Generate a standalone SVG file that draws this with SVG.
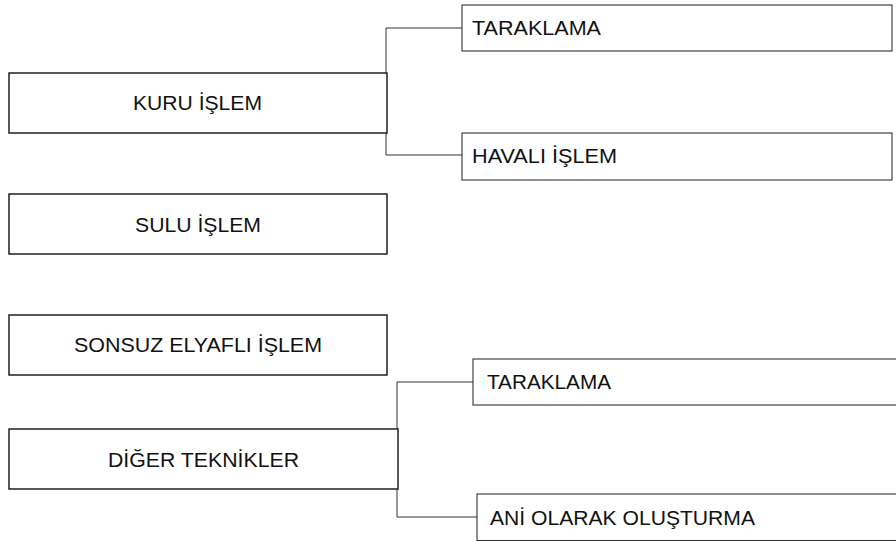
<svg xmlns="http://www.w3.org/2000/svg" width="896" height="541" viewBox="0 0 896 541">
<style>
.main{fill:#fff;stroke:#111;stroke-width:1.4}
.sub{fill:#fff;stroke:#333;stroke-width:1.1}
.conn{fill:none;stroke:#333;stroke-width:1}
text{font-family:"Liberation Sans",Arial,sans-serif;font-size:20px;fill:#111}
</style>
<rect width="896" height="541" fill="#fff"/>
<g id="connectors">
<path class="conn" d="M386,28 H462 M386,28 V155 H462"/>
<path class="conn" d="M397,382 H473 M397,382 V517 H477"/>
</g>
<g id="kuru"><rect class="main" x="9" y="73" width="378" height="60"/><text x="133" y="110" textLength="129" lengthAdjust="spacingAndGlyphs">KURU İŞLEM</text></g>
<g id="sulu"><rect class="main" x="9" y="194" width="378" height="60"/><text x="135" y="231.5" textLength="126" lengthAdjust="spacingAndGlyphs">SULU İŞLEM</text></g>
<g id="sonsuz"><rect class="main" x="9" y="315" width="378" height="60"/><text x="74" y="351.5" textLength="248" lengthAdjust="spacingAndGlyphs">SONSUZ ELYAFLI İŞLEM</text></g>
<g id="diger"><rect class="main" x="9" y="429" width="389" height="60"/><text x="108" y="466.5" textLength="191" lengthAdjust="spacingAndGlyphs">DİĞER TEKNİKLER</text></g>
<g id="taraklama1"><rect class="sub" x="462" y="5" width="430" height="46"/><text x="472" y="35" textLength="129" lengthAdjust="spacingAndGlyphs">TARAKLAMA</text></g>
<g id="havali"><rect class="sub" x="462" y="133" width="430" height="47"/><text x="472" y="162.5" textLength="145" lengthAdjust="spacingAndGlyphs">HAVALI İŞLEM</text></g>
<g id="taraklama2"><rect class="sub" x="473" y="359" width="440" height="46"/><text x="487" y="389" textLength="124" lengthAdjust="spacingAndGlyphs">TARAKLAMA</text></g>
<g id="ani"><rect class="sub" x="477" y="494" width="440" height="46.5"/><text x="490" y="525" textLength="265" lengthAdjust="spacingAndGlyphs">ANİ OLARAK OLUŞTURMA</text></g>
</svg>
